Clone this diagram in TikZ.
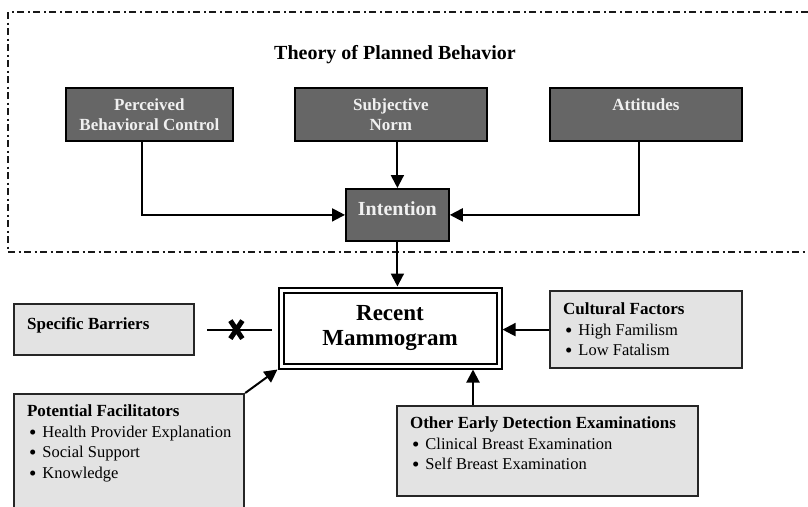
\documentclass[tikz,border=0pt]{standalone}
\usepackage{fontspec}
\setmainfont{Liberation Serif}
\usetikzlibrary{arrows.meta}
\definecolor{darkFill}{gray}{0.40}
\definecolor{lightFill}{gray}{0.89}
\definecolor{edgeGrey}{gray}{0.15}
\newcommand{\topText}[4]{%%
  %% Box of fixed size, text set from its top.
  \parbox[c][#2pt][t]{#1pt}{\vspace*{#3pt}\centering #4}%
}
\newcommand{\listText}[4]{%%
  %% Bold heading, then the bullet items.
  \parbox[c][#2pt][t]{#1pt}{\vspace*{#3pt}\raggedright\leftskip=13pt
    \fontsize{16.5}{20.5}\selectfont #4}%
}
\newcommand{\listHead}[1]{{\bfseries\fontsize{17}{20.5}\selectfont #1}}
\newcommand{\bulletItem}[1]{\\\hspace*{2pt}\raisebox{-1.6pt}{\fontsize{21}{20}%
  \selectfont\textbullet}\hspace{6pt}#1}

\begin{document}
\begin{tikzpicture}[%%
  x=1pt,y=-1pt,
  frameStyle/.style={line width=2pt,black!90,
    dash pattern=on 7pt off 3.5pt on 2pt off 3.5pt},
  darkBoxStyle/.style={draw=black,fill=darkFill,line width=1.8pt,
    inner sep=0pt,anchor=north west,text=white!94!black,
    font=\bfseries\fontsize{17}{20}\selectfont},
  lightBoxStyle/.style={draw=edgeGrey,fill=lightFill,line width=2.2pt,
    inner sep=0pt,anchor=north west,text=black},
  arrowStyle/.style={line width=2pt,-{Triangle[length=13pt,width=13pt]}},
  lineStyle/.style={-,line width=2pt},
  crossStyle/.style={inner sep=0pt,minimum width=10pt,minimum height=16pt}
]
\useasboundingbox (0,0) rectangle (808,506);
%%
%% Theory of Planned Behavior, inside the dash-dot frame.
\draw[frameStyle] (808,12) -- (8,12) -- (8,252) -- (808,252);
\node[font=\bfseries\fontsize{20}{24}\selectfont] (tpbTitle) at (395,55)
  {Theory of Planned Behavior};
\node[darkBoxStyle] (pbc) at (65,87)
  {\topText{167}{53}{11}{Perceived\\Behavioral Control}};
\node[darkBoxStyle] (norm) at (294,87)
  {\topText{192}{53}{11}{Subjective\\Norm}};
\node[darkBoxStyle] (attitudes) at (549,87)
  {\topText{192}{53}{11}{Attitudes}};
\node[darkBoxStyle,font=\bfseries\fontsize{20}{24}\selectfont] (intention)
  at (345,188) {\topText{103}{52}{12.5}{Intention}};
%%
%% Outcome and the factors round it.
\node[draw,double,line width=2pt,double distance=3pt,outer sep=3.5pt,
  minimum width=218pt,minimum height=76pt,align=center,
  font=\bfseries\fontsize{23}{25}\selectfont] (mammogram) at (390,328)
  {Recent\\Mammogram};
\node[lightBoxStyle] (barriers) at (13,303)
  {\listText{180}{51}{13}{\listHead{Specific Barriers}}};
\node[lightBoxStyle] (facilitators) at (13,393)
  {\listText{230}{125}{11}{\listHead{Potential Facilitators}
    \bulletItem{Health Provider Explanation}
    \bulletItem{Social Support}
    \bulletItem{Knowledge}}};
\node[lightBoxStyle] (cultural) at (549,290)
  {\listText{192}{77}{12}{\listHead{Cultural Factors}
    \bulletItem{High Familism}
    \bulletItem{Low Fatalism}}};
\node[lightBoxStyle] (examinations) at (396,405)
  {\listText{301}{90}{11}{\listHead{Other Early Detection Examinations}
    \bulletItem{Clinical Breast Examination}
    \bulletItem{Self Breast Examination}}};
\coordinate (pbcExit) at (142,140);
\coordinate (attExit) at (639,140);
\coordinate (examExit) at (473,405);
%%
%% Arrows.
\draw[arrowStyle] (pbcExit) |- (intention.west);
\draw[arrowStyle] (norm.south -| intention.north) -- (intention.north);
\draw[arrowStyle] (attExit) |- (intention.east);
\draw[arrowStyle] (intention.south) -- (mammogram.north -| intention.south);
\draw[arrowStyle] (cultural.west) -- (cultural.west -| mammogram.east);
\draw[arrowStyle] (examExit) -- (mammogram.south -| examExit);
\draw[arrowStyle] (facilitators.north east) -- (mammogram.south west);
%% Blocked link from the barriers.
\draw[lineStyle,shorten <=12pt,shorten >=6pt] (barriers.east)
  -- node[crossStyle] (blocked) {} (barriers.east -| mammogram.west);
\draw[line width=5pt] (blocked.north west) -- (blocked.south east)
  (blocked.north east) -- (blocked.south west);

\end{tikzpicture}
\end{document}
